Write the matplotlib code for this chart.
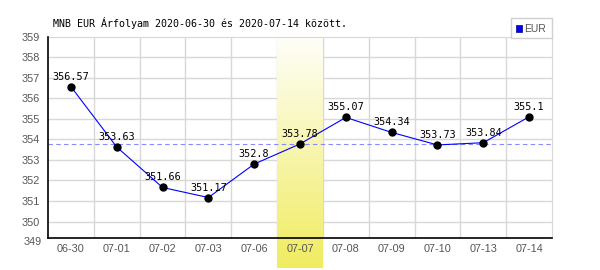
import matplotlib
matplotlib.use("Agg")
import matplotlib.pyplot as plt
import matplotlib.transforms as mtransforms
from matplotlib.patches import Rectangle
from matplotlib.colors import LinearSegmentedColormap
import numpy as np

dates = ["06-30", "07-01", "07-02", "07-03", "07-06", "07-07", "07-08", "07-09", "07-10", "07-13", "07-14"]
values = [356.57, 353.63, 351.66, 351.17, 352.8, 353.78, 355.07, 354.34, 353.73, 353.84, 355.1]
value_labels = ["356.57", "353.63", "351.66", "351.17", "352.8", "353.78", "355.07", "354.34", "353.73", "353.84", "355.1"]
y_ticks = [349, 350, 351, 352, 353, 354, 355, 356, 357, 358, 359]
highlight_index = 5
title = "MNB EUR Árfolyam 2020-06-30 és 2020-07-14 között."
series_name = "EUR"

fig = plt.figure(figsize=(6, 2.7), dpi=100)
ax = fig.add_axes([48/600, 32/270, (552-48)/600, (238-36.7)/270])
ymin, ymax = 349.2, 359
x = np.arange(len(dates))

# highlight gradient
grad = np.linspace(0, 1, 256).reshape(-1, 1)
cmap = LinearSegmentedColormap.from_list("hl", ["#ffffff", "#f0ec60"])
ax.imshow(grad, cmap=cmap, aspect="auto", origin="upper",
          extent=[highlight_index - 0.5, highlight_index + 0.5, 347.75, 359.42],
          clip_on=False, zorder=1.5, interpolation="bilinear")

# gridlines
for yv in y_ticks[1:-1]:
    ax.axhline(yv, color="#d8d8d8", lw=1.0, zorder=1)
for xv in np.arange(0.5, len(dates) - 1, 1.0):
    ax.axvline(xv, color="#d8d8d8", lw=1.0, zorder=1)

mean_val = float(np.mean(values))
ax.axhline(mean_val, color="#8888ff", lw=0.8, ls=(0, (4, 3)), zorder=2)

ax.plot(x, values, color="#0000ff", lw=0.8, zorder=3)
ax.plot(x, values, "o", color="black", ms=5.0, zorder=4)
for xi, v, lab in zip(x, values, value_labels):
    ax.annotate(lab, (xi, v), xytext=(0, 10), textcoords="offset pixels",
                ha="center", va="center", family="DejaVu Sans Mono", fontsize=7.3,
                color="black", zorder=5)

ax.set_xlim(-0.5, len(dates) - 0.5)
ax.set_ylim(ymin, ymax)
ax.set_xticks(x)
ax.set_xticklabels(dates, family="Liberation Sans", fontsize=7.8, color="#555555")
ax.set_yticks(y_ticks[1:])
ax.set_yticklabels([str(t) for t in y_ticks[1:]], family="Liberation Sans", fontsize=7.8, color="#555555")
ax.text(-0.0119, y_ticks[0], str(y_ticks[0]),
        transform=mtransforms.blended_transform_factory(ax.transAxes, ax.transData),
        ha="right", va="center", family="Liberation Sans", fontsize=7.8, color="#555555", clip_on=False)
ax.tick_params(axis="both", length=0)
ax.tick_params(axis="y", pad=6)
ax.tick_params(axis="x", pad=4)

ax.spines["left"].set_color("black")
ax.spines["bottom"].set_color("black")
ax.spines["left"].set_linewidth(1.2)
ax.spines["bottom"].set_linewidth(1.2)
ax.spines["top"].set_color("#d8d8d8")
ax.spines["right"].set_color("#d8d8d8")
ax.spines["bottom"].set_zorder(6)
ax.spines["left"].set_zorder(6)
ax.set_facecolor("white")

fig.text(53/600, 1 - 23/270, title, family="DejaVu Sans Mono", fontsize=7.2,
         ha="left", va="center", color="black")

# legend
fig.patches.append(Rectangle((511/600, 1 - 38/270), 41/600, 20/270, transform=fig.transFigure,
                             facecolor="white", edgecolor="#d0d0d0", lw=1.0))
fig.patches.append(Rectangle((516/600, 1 - 31.5/270), 6/600, 6/270, transform=fig.transFigure,
                             facecolor="#0000ff", edgecolor="#000080", lw=0.5))
fig.text(524/600, 1 - 28.5/270, series_name, family="Liberation Sans", fontsize=7.5,
         ha="left", va="center", color="#555555")

fig.savefig("out.png", dpi=100)
